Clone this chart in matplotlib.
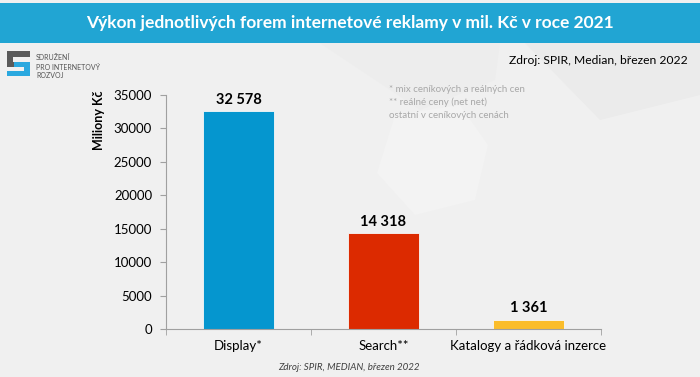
"""Výkon forem internetové reklamy 2021"""
import matplotlib.pyplot as plt
from matplotlib.patches import Rectangle, Polygon

plt.rcParams['font.family'] = ['Lato', 'DejaVu Sans']

# data
categories = ['Display*', 'Search**', 'Katalogy a řádková inzerce']
values = [32578, 14318, 1361]
value_labels = ['32 578', '14 318', '1 361']
colors = ['#0596cf', '#dc2a00', '#fbbd2a']
yticks = [0, 5000, 10000, 15000, 20000, 25000, 30000, 35000]

fig = plt.figure(figsize=(7, 3.77), dpi=100)
fig.patch.set_facecolor('#f0f0f0')


def px(x, y):
    # pixel coords -> figure coords
    return (x / 700, 1 - y / 377)


# faint background shapes
fig.patches.append(Polygon([px(377, 173), px(395, 115), px(460, 105), px(488, 145),
                            px(475, 200), px(415, 215)], closed=True, transform=fig.transFigure,
                           facecolor='#f3f3f3', edgecolor='none', zorder=0))
fig.patches.append(Polygon([px(525, 43), px(700, 43), px(700, 95), px(600, 120)], closed=True,
                           transform=fig.transFigure, facecolor='#ebebeb', edgecolor='none',
                           zorder=0))
fig.patches.append(Polygon([px(320, 43), px(500, 43), px(495, 80), px(420, 110)], closed=True,
                           transform=fig.transFigure, facecolor='#ededed', edgecolor='none',
                           zorder=0))

# header band
fig.patches.append(Rectangle(px(0, 43), 1, 40 / 377, transform=fig.transFigure,
                             facecolor='#21a5d3', edgecolor='none', zorder=1))
fig.text(0.5, 1 - 23 / 377, 'Výkon jednotlivých forem internetové reklamy v mil. Kč v roce 2021',
         ha='center', va='center', color='white', fontsize=12.5, fontweight='bold')
fig.text(0.982, 1 - 60 / 377, 'Zdroj: SPIR, Median, březen 2022', ha='right', va='center',
         fontsize=8.7, color='black')


# logo
def px_rect(x, y, w, h, c):
    fig.patches.append(Rectangle(px(x, y + h), w / 700, h / 377,
                                 transform=fig.transFigure, facecolor=c, edgecolor='none'))


px_rect(7, 51, 23, 6, '#5a5a5a')
px_rect(7, 51, 6, 16, '#5a5a5a')
px_rect(7, 62, 16, 5, '#5a5a5a')
px_rect(14, 62, 16, 5, '#2aa8df')
px_rect(24, 62, 6, 14, '#2aa8df')
px_rect(7, 71, 23, 5, '#2aa8df')
for i, line in enumerate(['SDRUŽENÍ', 'PRO INTERNETOVÝ', 'ROZVOJ']):
    fig.text(36 / 700, 1 - (58 + i * 9) / 377, line, fontsize=5, color='#555555', va='center')

# notes
notes = ['* mix ceníkových a reálných cen', '** reálné ceny (net net)', 'ostatní v ceníkových cenách']
for i, line in enumerate(notes):
    fig.text(389 / 700, 1 - (90 + i * 12.5) / 377, line, fontsize=7, color='#a8a8a8',
             va='center')

# chart
ax = fig.add_axes([166 / 700, 1 - 329 / 377, 435 / 700, 234 / 377])
ax.set_facecolor('none')
x = range(len(categories))
bars = ax.bar(x, values, width=0.49, color=colors, edgecolor='#f8f8f8', linewidth=0.6)
for i, v in enumerate(values):
    ax.text(i, v + 700, value_labels[i], ha='center', va='bottom', fontsize=10.5,
            fontweight='bold')

ax.set_xlim(-0.5, 2.5)
ax.set_ylim(0, 35000)
ax.set_yticks(yticks)
ax.set_yticklabels([str(t) for t in yticks], fontsize=9.5)
ax.set_xticks(x)
ax.set_xticklabels(categories, fontsize=9.5)
ax.set_xticks([-0.5, 0.5, 1.5, 2.5], minor=True)
ax.tick_params(axis='x', which='major', length=0, pad=8)
ax.tick_params(axis='x', which='minor', length=4, color='#a0a0a0')
ax.tick_params(axis='y', length=4, color='#a0a0a0', pad=6)
ax.set_ylabel('Miliony Kč', fontsize=9, fontweight='bold')
ax.yaxis.set_label_coords(-0.14, 0.89)
for side in ['top', 'right']:
    ax.spines[side].set_visible(False)
ax.spines['left'].set_color('#a0a0a0')
ax.spines['bottom'].set_color('#a0a0a0')

fig.text(349 / 700, 1 - 367 / 377, 'Zdroj: SPIR, MEDIAN, březen 2022', ha='center', va='center',
         fontsize=7, style='italic', color='#404040')

fig.savefig('out.png', dpi=100, facecolor=fig.get_facecolor())
